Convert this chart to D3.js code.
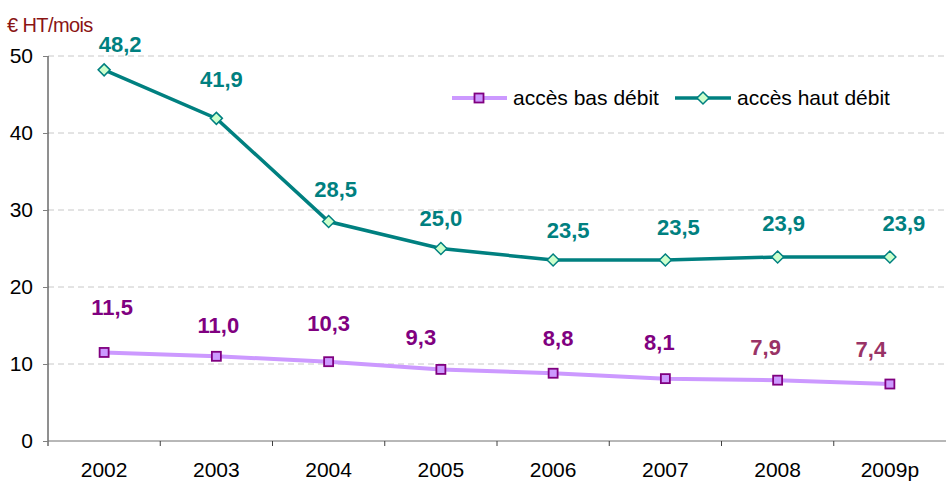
<!DOCTYPE html>
<html><head><meta charset="utf-8">
<script src="https://cdn.jsdelivr.net/npm/d3@7"></script>
<style>body{margin:0;background:#fff}svg{display:block;font-family:"Liberation Sans",Arial,sans-serif}</style>
</head><body><svg id="c" width="946" height="481"></svg>
<script>
const years = ["2002","2003","2004","2005","2006","2007","2008","2009p"];
const basDebit = [11.5,11.0,10.3,9.3,8.8,8.1,7.9,7.4];
const hautDebit = [48.2,41.9,28.5,25.0,23.5,23.5,23.9,23.9];
const yTicks = [0,10,20,30,40,50];
const seriesNames = ["accès bas débit","accès haut débit"];
const unitLabel = "€ HT/mois";

// layout: label nudges (pixels) relative to the point
const hautNudge = [[16,-18],[5,-31],[7,-25],[0,-23],[15,-22],[13,-25],[6,-26],[14,-26]];
const basNudge = [[8,-37],[2,-23],[0,-31],[-20,-24],[5,-27],[-6,-29],[-12,-25],[-19,-27]];
const basLabelColors = ["#800080","#800080","#800080","#800080","#800080","#800080","#993366","#993366"];

const FF = "Liberation Sans, Arial, sans-serif";
const svg = d3.select("#c");
const mLeft = 48, mRight = 946, mTop = 56, mBottom = 441;
const x = d3.scaleBand().domain(years).range([mLeft, mRight]);
const y = d3.scaleLinear().domain([0,50]).range([mBottom, mTop]);
const cx = d => x(d) + x.bandwidth()/2;

// gridlines
svg.append("g").selectAll("line").data(yTicks.filter(t=>t>0)).join("line")
  .attr("x1", mLeft).attr("x2", mRight).attr("y1", d=>y(d)).attr("y2", d=>y(d))
  .attr("stroke", "#c8c8c8").attr("stroke-width", 1).attr("stroke-dasharray", "6,4");

// y axis
const ya = svg.append("g").attr("transform", `translate(${mLeft},0)`)
  .call(d3.axisLeft(y).tickValues(yTicks).tickSize(5).tickPadding(10));
ya.select(".domain").attr("stroke", "#202020").attr("d", `M0,${mTop}V${mBottom+5}`);
ya.selectAll(".tick line").attr("stroke", "#808080");
ya.selectAll("text").attr("font-size", 21).attr("fill", "#000").attr("font-family", FF);

// x axis
const xa = svg.append("g").attr("transform", `translate(0,${mBottom})`)
  .call(d3.axisBottom(x).tickSize(0).tickPadding(21));
xa.select(".domain").attr("stroke", "#707070").attr("d", `M${mLeft},0H${mRight}`);
xa.selectAll("text").attr("font-size", 21).attr("fill", "#000").attr("font-family", FF);
svg.append("g").selectAll("line").data(years.slice(1)).join("line")
  .attr("x1", d=>x(d)).attr("x2", d=>x(d)).attr("y1", mBottom).attr("y2", mBottom+5)
  .attr("stroke", "#404040");

// unit label
svg.append("text").attr("x", 7).attr("y", 32).attr("font-size", 20).attr("fill", "#8a1414")
  .attr("letter-spacing", "-0.6").text(unitLabel);

const line = d3.line().x((d,i)=>cx(years[i])).y(d=>y(d));

// lines
svg.append("path").attr("d", line(basDebit)).attr("fill","none").attr("stroke","#cc99ff").attr("stroke-width",4);
svg.append("path").attr("d", line(hautDebit)).attr("fill","none").attr("stroke","#008080").attr("stroke-width",3.5);

const sq = 9, dm = 6;
function square(g, px, py){ g.append("rect").attr("x",px-sq/2).attr("y",py-sq/2).attr("width",sq).attr("height",sq).attr("fill","#cc99ff").attr("stroke","#800080").attr("stroke-width",1.8); }
function diamond(g, px, py){ g.append("path").attr("d",`M${px},${py-dm}L${px+dm},${py}L${px},${py+dm}L${px-dm},${py}Z`).attr("fill","#ccffcc").attr("stroke","#008080").attr("stroke-width",1.5); }

const mk = svg.append("g");
basDebit.forEach((v,i)=>square(mk, cx(years[i]), y(v)));
hautDebit.forEach((v,i)=>diamond(mk, cx(years[i]), y(v)));

const fmt = v => d3.format(".1f")(v).replace(".", ",");
const lb = svg.append("g").attr("font-size", 22).attr("font-weight","bold").attr("text-anchor","middle");
hautDebit.forEach((v,i)=>lb.append("text").attr("x", cx(years[i])+hautNudge[i][0]).attr("y", y(v)+hautNudge[i][1]).attr("fill","#008080").text(fmt(v)));
basDebit.forEach((v,i)=>lb.append("text").attr("x", cx(years[i])+basNudge[i][0]).attr("y", y(v)+basNudge[i][1]).attr("fill",basLabelColors[i]).text(fmt(v)));

// legend
const lg = svg.append("g").attr("font-size", 21);
lg.append("line").attr("x1",452).attr("x2",507).attr("y1",98).attr("y2",98).attr("stroke","#cc99ff").attr("stroke-width",4);
square(lg, 479, 98);
lg.append("text").attr("x",513).attr("y",105).attr("fill","#000").text(seriesNames[0]);
lg.append("line").attr("x1",675).attr("x2",731).attr("y1",98).attr("y2",98).attr("stroke","#008080").attr("stroke-width",3.5);
diamond(lg, 703, 98);
lg.append("text").attr("x",737).attr("y",105).attr("fill","#000").text(seriesNames[1]);
</script></body></html>
